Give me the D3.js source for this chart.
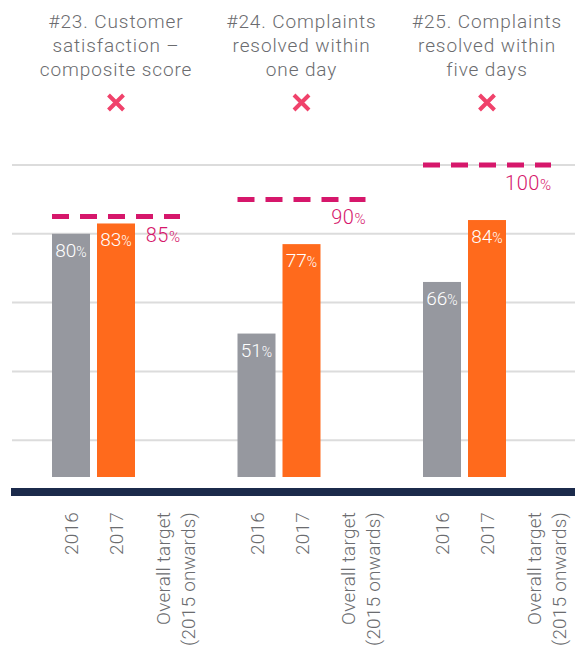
<!DOCTYPE html>
<html>
<head>
<meta charset="utf-8">
<script src="https://cdn.jsdelivr.net/npm/d3@7"></script>
<style>
  body { margin: 0; background: #fff; }
  text { font-family: Roboto, 'Liberation Sans', sans-serif; font-weight: 300; }
</style>
</head>
<body>
<div id="canvas"></div>
<script>
// data
var measures = ['#23', '#24', '#25'];
var titles = [
    ['#23. Customer', 'satisfaction \u2013', 'composite score'],
    ['#24. Complaints', 'resolved within', 'one day'],
    ['#25. Complaints', 'resolved within', 'five days']
];
var categories = ['2016', '2017', 'target'];
var categoryLabels = [['2016'], ['2017'], ['Overall target', '(2015 onwards)']];
var values2016 = [80, 51, 66];
var values2017 = [83, 77, 84];
var targets = [85, 90, 100];
var gridValues = [20, 40, 60, 80, 100];

var W = 575, H = 646;
var axisTop = 488;

var svg = d3.select('#canvas')
    .append('svg')
    .attr('width', W)
    .attr('height', H);

var x0 = d3.scaleBand()
    .domain(measures)
    .range([52, 551])
    .paddingInner(0.31);

var x1 = d3.scaleBand()
    .domain(categories)
    .range([0, x0.bandwidth()])
    .paddingInner(7 / 45);

var y = d3.scaleLinear()
    .domain([0, 100])
    .range([509, 165]);

//gridlines
svg.append('g')
    .selectAll('line')
    .data(gridValues)
    .enter()
    .append('line')
    .attr('x1', 12)
    .attr('x2', W)
    .attr('y1', function(d){ return y(d); })
    .attr('y2', function(d){ return y(d); })
    .style('stroke', '#dcdcdc')
    .style('stroke-width', 2);

//axis band
svg.append('rect')
    .attr('x', 11)
    .attr('y', axisTop)
    .attr('width', W - 11)
    .attr('height', 8)
    .style('fill', '#1b2a4b');

var groups = svg.selectAll('.group')
    .data(measures)
    .enter()
    .append('g')
    .attr('class', 'group')
    .attr('transform', function(d){ return 'translate(' + x0(d) + ',0)'; });

//titles
groups.append('text')
    .attr('text-anchor', 'middle')
    .style('font-size', '19px')
    .style('letter-spacing', '0.9px')
    .style('fill', '#6b6c6f')
    .selectAll('tspan')
    .data(function(d, i){ return titles[i]; })
    .enter()
    .append('tspan')
    .attr('x', x0.bandwidth() / 2)
    .attr('y', function(d, i){ return 28 + i * 24; })
    .text(function(d){ return d; });

//cross marks
groups.append('path')
    .attr('transform', 'translate(' + (x0.bandwidth() / 2) + ',102.5)')
    .attr('d', 'M-7.5,-7.5L7.5,7.5M7.5,-7.5L-7.5,7.5')
    .style('stroke', '#f0426b')
    .style('stroke-width', 4)
    .style('fill', 'none');

//bars
var bars = [
    {key: '2016', values: values2016, color: '#96989f'},
    {key: '2017', values: values2017, color: '#ff6a1c'}
];

bars.forEach(function(s){
    groups.append('rect')
        .attr('x', x1(s.key))
        .attr('y', function(d, i){ return y(s.values[i]); })
        .attr('width', x1.bandwidth())
        .attr('height', function(d, i){ return (axisTop - 11) - y(s.values[i]); })
        .style('fill', s.color);

    var lab = groups.append('text')
        .attr('x', x1(s.key) + x1.bandwidth() / 2)
        .attr('y', function(d, i){ return y(s.values[i]) + 23; })
        .attr('text-anchor', 'middle')
        .style('fill', '#fff');
    lab.append('tspan')
        .style('font-size', '19px')
        .text(function(d, i){ return s.values[i]; });
    lab.append('tspan')
        .style('font-size', '14px')
        .text('%');
});

//target lines
groups.append('line')
    .attr('x1', 0)
    .attr('x2', x0.bandwidth())
    .attr('y1', function(d, i){ return y(targets[i]); })
    .attr('y2', function(d, i){ return y(targets[i]); })
    .style('stroke', '#d6176b')
    .style('stroke-width', 5)
    .style('stroke-dasharray', '17,11');

var tLab = groups.append('text')
    .attr('x', x0.bandwidth())
    .attr('y', function(d, i){ return y(targets[i]) + 25; })
    .attr('text-anchor', 'end')
    .style('fill', '#d6176b');
tLab.append('tspan')
    .style('font-size', '20px')
    .style('letter-spacing', '0.5px')
    .text(function(d, i){ return targets[i]; });
tLab.append('tspan')
    .style('font-size', '15px')
    .text('%');

//category labels, rotated
categories.forEach(function(c, ci){
    var t = groups.append('text')
        .attr('transform', 'translate(' + (x1(c) + x1.bandwidth() / 2) + ',512) rotate(-90)')
        .attr('text-anchor', 'end')
        .style('font-size', '19px')
        .style('letter-spacing', '0.2px')
        .style('fill', '#6b6c6f');
    t.selectAll('tspan')
        .data(categoryLabels[ci])
        .enter()
        .append('tspan')
        .attr('x', 0)
        .attr('y', function(d, i){ return (ci == 2 ? 9 : 7) + i * 25; })
        .text(function(d){ return d; });
});
</script>
</body>
</html>
